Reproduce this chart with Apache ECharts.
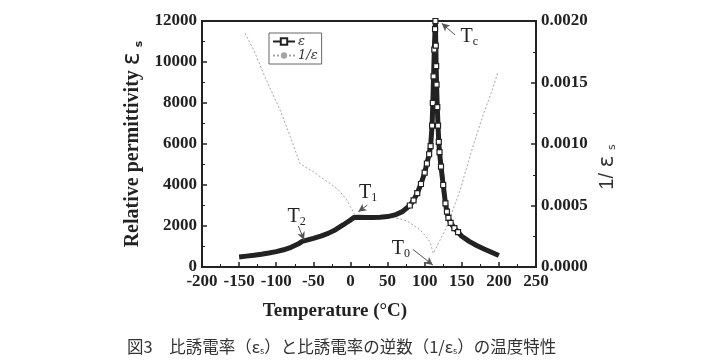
<!DOCTYPE html>
<html><head><meta charset="utf-8">
<script src="https://cdn.jsdelivr.net/npm/echarts@6/dist/echarts.min.js"></script>
<style>html,body{margin:0;padding:0;background:#fff}#c{width:714px;height:364px}</style>
</head><body><div id="c"></div>
<script>
// ε_s vs temperature (°C)
const epsTemps = [-150,-140,-130,-120,-110,-100,-90,-80,-70,-65,-60,-50,-40,-30,-20,-10,-5,0,5,10,20,30,40,50,60,70,80,85,90,95,100,103,106,108,110,111,112,113,114,114.5,115,115.5,116,117,118,119,120,122,125,128,130,132,135,140,145,150,160,170,180,190,200];
const epsValues = [490,530,570,620,680,750,840,960,1130,1250,1300,1400,1510,1640,1820,2050,2170,2290,2420,2430,2420,2420,2430,2460,2540,2700,3000,3250,3600,4050,4600,5050,5500,5900,6900,8000,9300,10600,11600,12000,10800,9800,8900,7800,6900,6100,5600,4900,4000,3100,2700,2400,2150,1900,1700,1500,1250,1050,880,720,560];
// 1/ε_s vs temperature (°C)
const invTemps = [-142,-130,-117,-105,-95,-81,-68,-60,-50,-40,-27.5,-15,-5,0,6,15,30,45,58,68,76,85,94,100,107,111.7,120,130,148,163.5,179,190,199];
const invValues = [0.00190,0.00176,0.00157,0.00141,0.00128,0.00106,0.00084,0.00081,0.000775,0.00073,0.00068,0.00062,0.000545,0.00049,0.000423,0.000413,0.000410,0.000408,0.000400,0.00039,0.000375,0.00034,0.00030,0.00026,0.000206,0.000111,0.00021,0.00033,0.00063,0.00095,0.00124,0.00142,0.00159];
// axis ticks
const xTicks = {min:-200, max:250, step:50};
const yTicks = {min:0, max:12000, step:2000};
const y2Ticks = {min:0, max:0.002, step:0.0005};
// annotations (data coordinates)
const annNames = ['c','1','2','0'];
const annText = [[160,11220],[23.7,3610],[-72.4,2440],[68,880]];
const annArrowFrom = [[140.9,11320],[22.8,3020],[-70.2,2000],[84,863]];
const annArrowTo = [[123,11890],[10.6,2700],[-62.5,1320],[111,98]];

const serif = '"Liberation Serif","DejaVu Serif",serif';
const epsPairs = epsTemps.map((t,i)=>[t,epsValues[i]]);
const invPairs = invTemps.map((t,i)=>[t,invValues[i]]);

const chart = echarts.init(document.getElementById('c'));
const axisCommon = {
  axisLine:{show:true,onZero:false,lineStyle:{color:'#222',width:2}},
  axisTick:{show:true,inside:true,length:5,lineStyle:{color:'#222',width:1.5}},
  minorTick:{show:true,splitNumber:2,length:3,lineStyle:{color:'#222',width:1}},
  splitLine:{show:false},
  axisLabel:{color:'#222',fontFamily:serif,fontWeight:'bold',fontSize:17}
};
chart.setOption({
  animation:false,
  backgroundColor:'#fff',
  grid:{left:202,right:178,top:21,bottom:97,show:true,borderColor:'#222',borderWidth:2,backgroundColor:'transparent'},
  title:{
    text:'図3　比誘電率（ε{s|s}）と比誘電率の逆数（1/ε{s|s}）の温度特性',
    left:122, top:333,
    textStyle:{fontFamily:'"Noto Sans CJK JP",sans-serif',fontSize:16.5,fontWeight:'normal',color:'#333',
      rich:{s:{fontSize:9,verticalAlign:'bottom',padding:[8,0,0,0],fontFamily:'"Noto Sans CJK JP",sans-serif',color:'#333'}}}
  },
  legend:{
    left:269, top:33, orient:'vertical',
    borderColor:'#666', borderWidth:1, padding:[2,4,2,3], itemGap:1,
    itemWidth:22, itemHeight:8,
    textStyle:{fontSize:13,fontFamily:'"DejaVu Serif",serif',fontStyle:'italic',color:'#333',padding:[0,0,0,-2]},
    data:['ε','1/ε']
  },
  xAxis:Object.assign({}, axisCommon, {
    type:'value', min:xTicks.min, max:xTicks.max, interval:xTicks.step,
    name:'Temperature (°C)', nameLocation:'middle', nameGap:35,
    nameTextStyle:{fontFamily:serif,fontWeight:'bold',fontSize:19,color:'#222',padding:[0,68,0,0]},
    axisLabel:Object.assign({}, axisCommon.axisLabel, {margin:6, formatter:v=>String(v)})
  }),
  yAxis:[
    Object.assign({}, axisCommon, {
      type:'value', min:yTicks.min, max:yTicks.max, interval:yTicks.step,
      name:'Relative permittivity {e|ε} {s|s}', nameLocation:'middle', nameGap:57,
      nameTextStyle:{fontFamily:serif,fontWeight:'bold',fontSize:20,color:'#222',
        rich:{e:{fontFamily:'"DejaVu Sans",sans-serif',fontSize:24,fontWeight:'normal',color:'#222'},
              s:{fontFamily:'"DejaVu Sans",sans-serif',fontSize:11,color:'#222',verticalAlign:'bottom'}}},
      axisLabel:Object.assign({}, axisCommon.axisLabel, {margin:5, formatter:v=>String(v)})
    }),
    Object.assign({}, axisCommon, {
      type:'value', position:'right', min:y2Ticks.min, max:y2Ticks.max, interval:y2Ticks.step,
      name:'1/ {e|ε} {s|s}', nameLocation:'middle', nameGap:60, nameRotate:90,
      nameTextStyle:{fontFamily:'"Liberation Sans",sans-serif',fontSize:20,color:'#333',padding:[0,0,0,-46],
        rich:{e:{fontFamily:'"DejaVu Sans",sans-serif',fontSize:22,color:'#333'},
              s:{fontFamily:'"DejaVu Sans",sans-serif',fontSize:11,color:'#333',verticalAlign:'bottom'}}},
      axisLabel:Object.assign({}, axisCommon.axisLabel, {margin:5, formatter:v=>v.toFixed(4)})
    })
  ],
  series:[
    {
      name:'1/ε', type:'line', yAxisIndex:1, data:invPairs, showSymbol:false, symbol:'none',
      lineStyle:{color:'#a5a5a5',width:1,type:[2,2]}, itemStyle:{color:'#a5a5a5'}, z:2
    },
    {
      name:'ε', type:'line', yAxisIndex:0, data:epsPairs, showAllSymbol:true,
      symbol:'rect', symbolSize:v=>((v[1] > 2800 || (v[0] > 114 && v[1] > 1600)) ? 5 : 0),
      lineStyle:{color:'#222',width:5},
      itemStyle:{color:'#fff',borderColor:'#222',borderWidth:1.2}, z:3,
      markPoint:{
        symbol:'circle', symbolSize:0,
        label:{show:true,position:'inside',formatter:p=>'{t|T}{s|'+p.name+'}',
          rich:{t:{fontFamily:serif,fontSize:20,color:'#222'},s:{fontFamily:serif,fontSize:12,color:'#222',verticalAlign:'bottom',padding:[10,0,0,0]}}},
        data:annNames.map((n,i)=>({name:n,coord:annText[i]}))
      },
      markLine:{
        silent:true, symbol:['none','arrow'], symbolSize:[6,8],
        label:{show:false},
        lineStyle:{color:'#555',width:1,type:'solid'},
        data:annNames.map((n,i)=>[{coord:annArrowFrom[i]},{coord:annArrowTo[i]}])
      }
    }
  ]
});
</script></body></html>
